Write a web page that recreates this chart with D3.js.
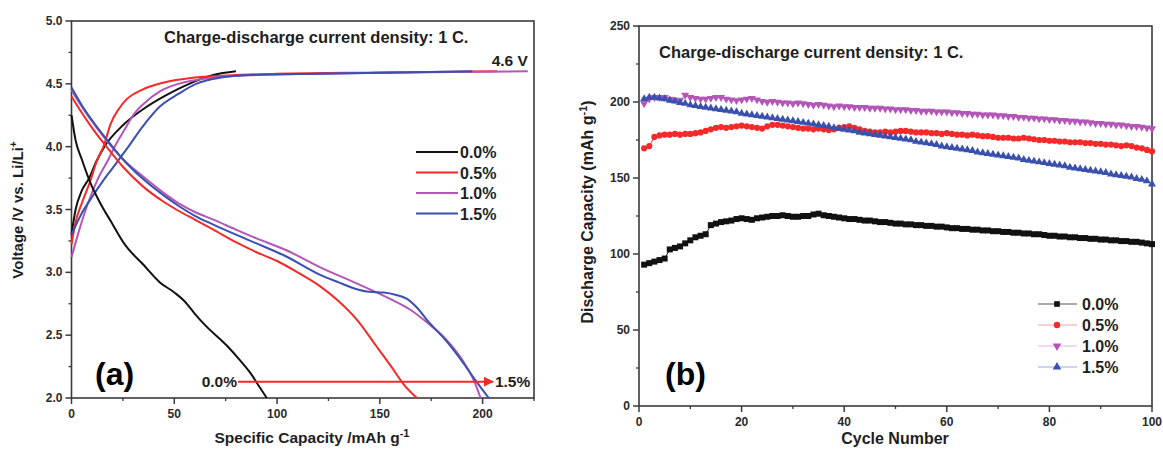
<!DOCTYPE html>
<html>
<head>
<meta charset="utf-8">
<script src="https://cdn.jsdelivr.net/npm/d3@7"></script>
<style>
  body { margin: 0; background: #fff; }
  svg text { font-family: "Liberation Sans", Arial, sans-serif; font-weight: bold; }
</style>
</head>
<body>
<div id="chart"></div>
<script>
// ---------- data ----------
const seriesNames = ["0.0%", "0.5%", "1.0%", "1.5%"];
const seriesColors = ["#111111", "#f42a2a", "#b456b8", "#3a50ae"];
const legendLineColors = ["#555555", "#f7a0a0", "#e2b4e4", "#9aa8dc"];

// panel (a): charge curves [capacity, voltage]
const chargeBlack = [[0,3.3],[2,3.5],[5,3.65],[8.6,3.75],[12,3.88],[16,4.0],[25,4.17],[35,4.3],[45,4.4],[52,4.46],[60,4.52],[69,4.57],[80,4.6]];
const chargeRed = [[0,3.22],[2,3.4],[5,3.55],[9,3.72],[12,3.87],[16,4.02],[19,4.18],[23,4.3],[27,4.38],[34,4.45],[45,4.51],[60,4.55],[80,4.57],[100,4.58],[150,4.59],[207,4.6]];
const chargePurple = [[0,3.12],[4,3.35],[8,3.55],[13,3.75],[18,3.9],[21,4.0],[26,4.14],[30,4.25],[35,4.34],[43,4.44],[52,4.5],[69,4.55],[90,4.57],[120,4.58],[160,4.59],[222,4.6]];
const chargeBlue = [[0,3.3],[5,3.47],[10,3.6],[15,3.72],[20,3.83],[27.7,4.0],[34.6,4.16],[43,4.32],[52,4.42],[60.6,4.5],[72.7,4.55],[86.5,4.57],[120,4.58],[160,4.59],[195,4.6]];

// panel (a): discharge curves [capacity, voltage]
const dischBlack = [[0,4.25],[2,4.05],[5,3.9],[9,3.72],[14,3.55],[19,3.41],[26,3.22],[35,3.06],[43,2.92],[50,2.84],[55,2.77],[60,2.67],[65,2.58],[76,2.41],[82,2.3],[87,2.2],[91,2.1],[95,2.0]];
const dischRed = [[0,4.4],[5,4.27],[10,4.15],[17,4.0],[25,3.84],[35,3.68],[45,3.56],[52,3.49],[60,3.42],[69,3.34],[80,3.24],[90,3.16],[100,3.09],[110,3.0],[120,2.9],[130,2.77],[139,2.62],[148,2.42],[156,2.24],[162,2.1],[168,2.0]];
const dischPurple = [[0,4.45],[5,4.32],[10,4.2],[17,4.05],[25,3.9],[35,3.76],[45,3.63],[52,3.55],[60,3.48],[69,3.42],[80,3.34],[90,3.27],[104,3.18],[121,3.04],[139,2.91],[156,2.78],[165,2.7],[173,2.6],[182,2.47],[191,2.28],[196,2.13],[199,2.0]];
const dischBlue = [[0,4.47],[5,4.33],[10,4.21],[17,4.06],[25,3.9],[35,3.74],[45,3.61],[52,3.53],[60,3.45],[69,3.38],[80,3.3],[90,3.23],[104,3.13],[121,2.98],[130,2.92],[138,2.87],[145,2.845],[152,2.84],[158,2.82],[163,2.79],[168,2.72],[173,2.62],[182,2.46],[191,2.27],[197,2.13],[203,2.0]];

// panel (b): discharge capacity per cycle (cycles 1..100)
const cycles = d3.range(1, 101);
const cap00 = [93,94,95,96,97,103,104,105,107,109,
  111,112,113,119,120,121,121.5,122,123,123.5,
  123,122.5,123.5,124,124.5,125,125,125.5,125,124.5,
  124.5,125,125,126,126.5,125.5,125,124.5,124,123.5,
  123,123,122.5,122,122,121.5,121,121,120.5,120,
  120,119.5,119.5,119,119,118.5,118.5,118,118,117.5,
  117,117,116.5,116.5,116,116,115.5,115.5,115,115,
  114.5,114.5,114,114,113.5,113.5,113,113,112.5,112,
  112,111.5,111.5,111,111,110.5,110.5,110,110,109.5,
  109.5,109,109,108.5,108.5,108,108,107.5,107,106.5];
const cap05 = [169.5,171,177,178,178.5,178.5,179,178.5,179,179,
  179.5,180,181,182,183,183.5,183,183.5,184,184.5,
  184,183.5,183,182.5,184,185,185,184.5,184,183.5,
  183,182.5,182.5,182,182.5,182,181.5,182,183,183.5,
  184,183,182,181,180.5,180,180,180.5,180,180.5,
  181,181,180.5,180,180,180,179.5,179.5,179,179.5,
  179,178.5,178.5,178,178.5,178,177.5,177.5,177,176.5,
  176.5,176.5,176,176,176.5,176,175.5,175,175,174.5,
  174.5,174,174,173.5,173.5,173.5,173,173,172.5,172.5,
  172,172,171.5,171,171.5,171,170,169.5,168.5,167.5];
const cap10 = [199,202,203,203,203,202,201.5,201,204.5,203,
  202.5,202,202,202.5,203,203,202,201.5,201,201.5,
  202,202.5,201.5,200.5,200,200.5,200,199.5,199.5,199,
  199.5,199,198.5,198,198.5,198,197.5,197,197.5,197,
  197,196.5,196.5,196.5,196,196,196,195.5,195.5,195,
  195,195,194.5,194.5,194,194,194,193.5,193.5,193.5,
  193,193,192.5,192.5,192,192,191.5,191.5,191.5,191,
  191,190.5,190.5,190,190,189.5,189.5,189,189,188.5,
  188.5,188,188,187.5,187.5,187,187,186.5,186,186,
  185.5,185.5,185,185,184.5,184,184,183.5,183,182.5];
const cap15 = [202,203,203,202.5,202,201,200.5,199.5,199,198,
  197.5,197,196.5,196,195.5,195,194.5,194,193.5,192.5,
  192,191.5,191,190.5,190,189.5,189,188.5,188,187.5,
  187,186.5,186,185.5,185,184.5,184,183,182.5,182,
  181.5,181,180,179.5,179,178.5,178,177.5,177,176.5,
  176,175.5,175,174,173.5,173,172.5,172,171,170.5,
  170,169.5,169,168.5,168,167,166.5,166,165.5,165,
  164.5,164,163.5,163,162,161.5,161,160.5,160,159.5,
  159,158.5,158,157,156.5,156,155.5,155,154.5,154,
  153.5,152.5,152,151.5,151,150.5,149.5,149,148,146];
const capSeries = [cap00, cap05, cap10, cap15];

const xTicksA = [0, 50, 100, 150, 200];
const yTicksA = [2.0, 2.5, 3.0, 3.5, 4.0, 4.5, 5.0];
const xTicksB = [0, 20, 40, 60, 80, 100];
const yTicksB = [0, 50, 100, 150, 200, 250];

// ---------- setup ----------
const W = 1163, H = 453;
const svg = d3.select("#chart").append("svg").attr("width", W).attr("height", H);

const xA = d3.scaleLinear().domain([0, 225]).range([71.5, 534]);
const yA = d3.scaleLinear().domain([2, 5]).range([398, 21]);
const xB = d3.scaleLinear().domain([0, 100]).range([639, 1152]);
const yB = d3.scaleLinear().domain([0, 250]).range([406, 26]);

const axisColor = "#3a3a3a";
const tickTextColor = "#2a2a2a";
const textColor = "#1e1e1e";

function drawFrame(x, y, xTicks, yTicks, xMinor, yMinor, fmtY) {
  const g = svg.append("g");
  const [x0, x1] = x.range();
  const [y0, y1] = y.range();
  // minor ticks
  g.selectAll(".xm").data(xMinor).enter().append("line")
    .attr("x1", d => x(d)).attr("x2", d => x(d))
    .attr("y1", y0).attr("y2", y0 + 3)
    .attr("stroke", axisColor).attr("stroke-width", 1.3);
  g.selectAll(".ym").data(yMinor).enter().append("line")
    .attr("y1", d => y(d)).attr("y2", d => y(d))
    .attr("x1", x0).attr("x2", x0 - 3)
    .attr("stroke", axisColor).attr("stroke-width", 1.3);
  // major ticks
  g.selectAll(".xt").data(xTicks).enter().append("line")
    .attr("x1", d => x(d)).attr("x2", d => x(d))
    .attr("y1", y0).attr("y2", y0 + 6)
    .attr("stroke", axisColor).attr("stroke-width", 1.5);
  g.selectAll(".yt").data(yTicks).enter().append("line")
    .attr("y1", d => y(d)).attr("y2", d => y(d))
    .attr("x1", x0).attr("x2", x0 - 6)
    .attr("stroke", axisColor).attr("stroke-width", 1.5);
  // tick labels
  g.selectAll(".xl").data(xTicks).enter().append("text")
    .attr("x", d => x(d)).attr("y", y0 + 20)
    .attr("text-anchor", "middle").attr("font-size", 12)
    .attr("fill", tickTextColor).text(d => d);
  g.selectAll(".yl").data(yTicks).enter().append("text")
    .attr("x", x0 - 9).attr("y", d => y(d) + 4)
    .attr("text-anchor", "end").attr("font-size", 12)
    .attr("fill", tickTextColor).text(fmtY);
  // frame
  g.append("rect").attr("x", x0).attr("y", y1)
    .attr("width", x1 - x0).attr("height", y0 - y1)
    .attr("fill", "none").attr("stroke", axisColor).attr("stroke-width", 1.6);
}

drawFrame(xA, yA, xTicksA, yTicksA, [25, 75, 125, 175, 225], [2.25, 2.75, 3.25, 3.75, 4.25, 4.75], d => d.toFixed(1));
drawFrame(xB, yB, xTicksB, yTicksB, [10, 30, 50, 70, 90], [25, 75, 125, 175, 225], d => d);

// ---------- panel (a) ----------
const lineA = d3.line().x(d => xA(d[0])).y(d => yA(d[1])).curve(d3.curveMonotoneX);
const chargeCurves = [chargeBlack, chargeRed, chargePurple, chargeBlue];
const dischCurves = [dischBlack, dischRed, dischPurple, dischBlue];

const gA = svg.append("g");
chargeCurves.forEach((c, i) => {
  gA.append("path").attr("d", lineA(c)).attr("fill", "none")
    .attr("stroke", seriesColors[i]).attr("stroke-width", 2);
});
dischCurves.forEach((c, i) => {
  gA.append("path").attr("d", lineA(c)).attr("fill", "none")
    .attr("stroke", seriesColors[i]).attr("stroke-width", 2);
});

svg.append("text").attr("x", 164).attr("y", 43).attr("font-size", 16.5)
  .attr("fill", textColor).text("Charge-discharge current density: 1 C.");
svg.append("text").attr("x", xA(222)).attr("y", yA(4.64)).attr("font-size", 15.5)
  .attr("text-anchor", "end").attr("fill", textColor).text("4.6 V");

// arrow 0.0% -> 1.5%
svg.append("defs").append("marker").attr("id", "arr")
  .attr("viewBox", "0 0 10 10").attr("refX", 9).attr("refY", 5)
  .attr("markerWidth", 5).attr("markerHeight", 5).attr("orient", "auto")
  .append("path").attr("d", "M0,0L10,5L0,10Z").attr("fill", "#f42a2a");
svg.append("line").attr("x1", xA(81)).attr("x2", xA(205))
  .attr("y1", yA(2.13)).attr("y2", yA(2.13))
  .attr("stroke", "#f42a2a").attr("stroke-width", 2).attr("marker-end", "url(#arr)");
svg.append("text").attr("x", xA(80.5)).attr("y", yA(2.13) + 5.5).attr("font-size", 15.5)
  .attr("text-anchor", "end").attr("fill", textColor).text("0.0%");
svg.append("text").attr("x", xA(206)).attr("y", yA(2.13) + 5.5).attr("font-size", 15.5)
  .attr("fill", textColor).text("1.5%");

svg.append("text").attr("x", 95).attr("y", 385).attr("font-size", 32)
  .attr("fill", "#000").text("(a)");

// legend (a)
const legA = svg.append("g");
seriesNames.forEach((n, i) => {
  const ly = 152 + i * 20.5;
  legA.append("line").attr("x1", 416).attr("x2", 458).attr("y1", ly).attr("y2", ly)
    .attr("stroke", seriesColors[i]).attr("stroke-width", 2.2);
  legA.append("text").attr("x", 460).attr("y", ly + 6).attr("font-size", 16)
    .attr("fill", textColor).text(n);
});

// axis titles (a)
const tA = svg.append("text").attr("font-size", 15).attr("fill", textColor)
  .attr("text-anchor", "middle").attr("transform", "translate(23,210) rotate(-90)");
tA.append("tspan").text("Voltage /V vs. Li/Li");
tA.append("tspan").attr("dy", -6).attr("font-size", 10).text("+");
const xtA = svg.append("text").attr("font-size", 15.5).attr("fill", textColor)
  .attr("text-anchor", "middle").attr("x", 312).attr("y", 443);
xtA.append("tspan").text("Specific Capacity /mAh g");
xtA.append("tspan").attr("dy", -6).attr("font-size", 11).text("-1");

// ---------- panel (b) ----------
const lineB = d3.line().x((d, i) => xB(cycles[i])).y(d => yB(d));
const symbols = [d3.symbolSquare, d3.symbolCircle, d3.symbolTriangle, d3.symbolTriangle];
const symbolSizes = [36, 30, 28, 28];
const symbolRot = [0, 0, 180, 0];

const gB = svg.append("g");
capSeries.forEach((s, i) => {
  gB.append("path").attr("d", lineB(s)).attr("fill", "none")
    .attr("stroke", seriesColors[i]).attr("stroke-width", 1);
  const sym = d3.symbol().type(symbols[i]).size(symbolSizes[i]);
  gB.selectAll(".m" + i).data(s).enter().append("path")
    .attr("d", sym)
    .attr("transform", (d, j) => `translate(${xB(cycles[j])},${yB(d)}) rotate(${symbolRot[i]})`)
    .attr("fill", seriesColors[i]);
});

svg.append("text").attr("x", 659).attr("y", 58).attr("font-size", 16.5)
  .attr("fill", textColor).text("Charge-discharge current density: 1 C.");
svg.append("text").attr("x", 665).attr("y", 385).attr("font-size", 32)
  .attr("fill", "#000").text("(b)");

// legend (b)
const legB = svg.append("g");
seriesNames.forEach((n, i) => {
  const ly = 304 + i * 21;
  legB.append("line").attr("x1", 1038).attr("x2", 1077).attr("y1", ly).attr("y2", ly)
    .attr("stroke", legendLineColors[i]).attr("stroke-width", 1.2);
  legB.append("path").attr("d", d3.symbol().type(symbols[i]).size(32)())
    .attr("transform", `translate(1057,${ly}) rotate(${symbolRot[i]})`)
    .attr("fill", seriesColors[i]);
  legB.append("text").attr("x", 1082).attr("y", ly + 6).attr("font-size", 16)
    .attr("fill", textColor).text(n);
});

// axis titles (b)
const tB = svg.append("text").attr("font-size", 16).attr("fill", textColor)
  .attr("text-anchor", "middle").attr("transform", "translate(593,212) rotate(-90)");
tB.append("tspan").text("Discharge Capacity (mAh g");
tB.append("tspan").attr("dy", -6).attr("font-size", 11).text("-1");
tB.append("tspan").attr("dy", 6).text(")");
svg.append("text").attr("font-size", 16).attr("fill", textColor)
  .attr("text-anchor", "middle").attr("x", 895).attr("y", 444).text("Cycle Number");
</script>
</body>
</html>
